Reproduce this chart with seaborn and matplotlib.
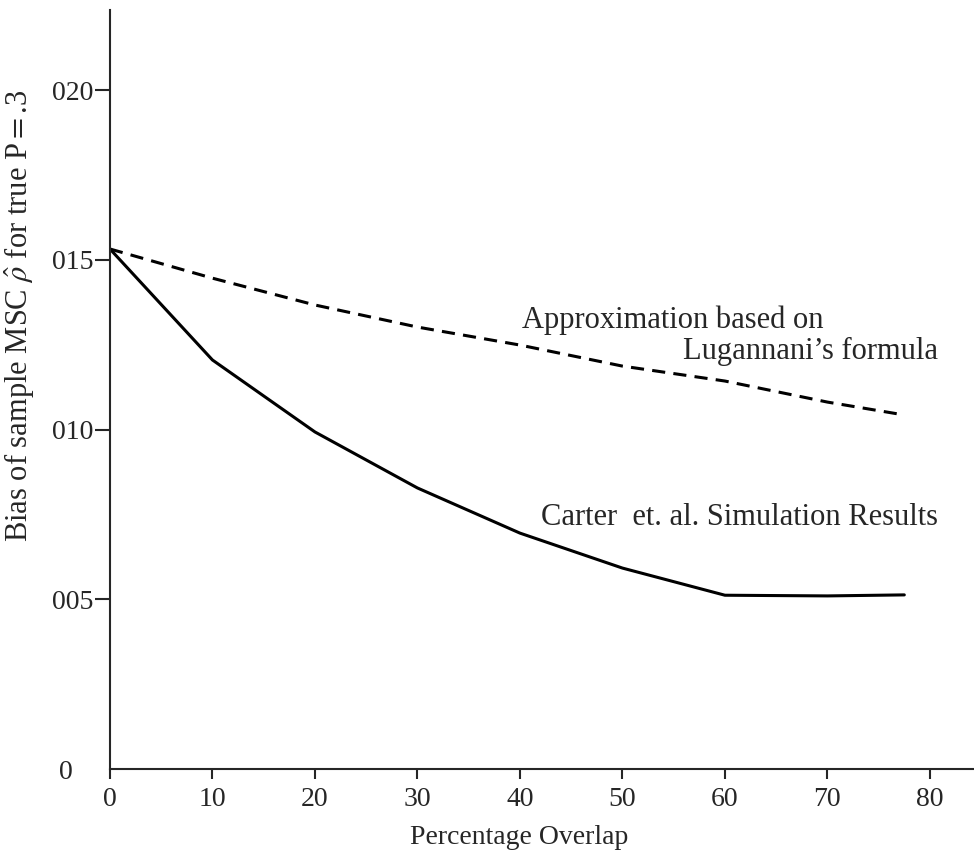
import numpy as np
import pandas as pd
import matplotlib
matplotlib.use("Agg")
import matplotlib.pyplot as plt
import seaborn as sns

# values
overlap = [0, 10, 20, 30, 40, 50, 60, 70, 77.5]
bias_sim = [0.01532, 0.01205, 0.00993, 0.00828, 0.00695, 0.00592, 0.00512, 0.00510, 0.00513]
bias_approx = [0.01532, 0.01446, 0.01367, 0.01302, 0.01249, 0.01187, 0.01143, 0.01081, 0.01043]
xticks = [0, 10, 20, 30, 40, 50, 60, 70, 80]
yticks = [0, 0.005, 0.010, 0.015, 0.020]
ytick_labels = ["0", "005", "010", "015", "020"]

sns.set_style("ticks")
plt.rcParams['font.family'] = ['Liberation Serif', 'DejaVu Serif']
plt.rcParams['mathtext.fontset'] = 'stix'

df = pd.DataFrame({"overlap": overlap, "sim": bias_sim, "approx": bias_approx})

fig = plt.figure(figsize=(9.74, 8.56), dpi=100)
ax = fig.add_axes([0.1129, 0.1016, 0.8871, 0.8867])

sns.lineplot(data=df, x="overlap", y="sim", ax=ax, color="black", linewidth=2.2)
sns.lineplot(data=df, x="overlap", y="approx", ax=ax, color="black", linewidth=2.2,
             dashes=False, linestyle=(0, (4.3, 2.7)))

ax.set_xlim(0, 84.3)
ax.set_ylim(0, 0.02236)
ax.set_xticks(xticks)
ax.set_xticklabels([str(t) for t in xticks], fontsize=20)
ax.set_yticks(yticks)
ax.set_yticklabels(ytick_labels, fontsize=20)
ax.tick_params(axis="x", direction="out", length=7, width=1.5, pad=6)
ax.tick_params(axis="y", direction="out", length=11, width=1.5, pad=1)
t0 = ax.yaxis.get_major_ticks()[0]
t0.tick1line.set_visible(False)
t0.set_pad(16)
for s in ["top", "right"]:
    ax.spines[s].set_visible(False)
for s in ["left", "bottom"]:
    ax.spines[s].set_linewidth(1.5)

ax.set_xlabel("Percentage Overlap", fontsize=20)
ax.xaxis.set_label_coords(0.474, -0.074)
ax.set_ylabel(r"Bias of sample MSC $\hat{\rho}$ for true P$=$.3", fontsize=22)
ax.yaxis.set_label_coords(-0.0857, 0.597)

ax.text(40.2, 0.0130, "Approximation based on", fontsize=22, va="baseline", ha="left")
ax.text(80.8, 0.01208, "Lugannani\u2019s formula", fontsize=22, va="baseline", ha="right")
ax.text(42.1, 0.00719, "Carter  et. al. Simulation Results", fontsize=22, va="baseline", ha="left")

fig.savefig("out.png", dpi=100)
